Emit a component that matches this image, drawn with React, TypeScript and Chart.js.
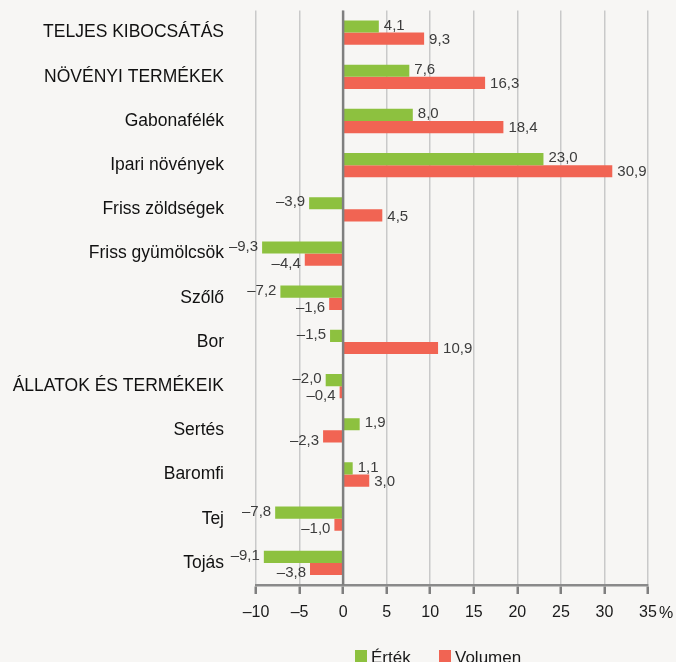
import React, { useEffect, useRef } from "react";
import { Chart, registerables } from "chart.js";

Chart.register(...registerables);

const categories = [
  "TELJES KIBOCSÁTÁS",
  "NÖVÉNYI TERMÉKEK",
  "Gabonafélék",
  "Ipari növények",
  "Friss zöldségek",
  "Friss gyümölcsök",
  "Szőlő",
  "Bor",
  "ÁLLATOK ÉS TERMÉKEIK",
  "Sertés",
  "Baromfi",
  "Tej",
  "Tojás",
];
const ertek = [4.1, 7.6, 8.0, 23.0, -3.9, -9.3, -7.2, -1.5, -2.0, 1.9, 1.1, -7.8, -9.1];
const volumen = [9.3, 16.3, 18.4, 30.9, 4.5, -4.4, -1.6, 10.9, -0.4, -2.3, 3.0, -1.0, -3.8];
const seriesNames = ["Érték", "Volumen"];
const xMin = -10;
const xMax = 35;
const xStep = 5;
const unitLabel = "%";

const GREEN = "#8dc13f";
const RED = "#f16453";
const BG = "#f7f6f4";
const FONT = "'Liberation Sans', Arial, sans-serif";

const fmt = (v: number, digits: number) =>
  v.toFixed(digits).replace(".", ",").replace("-", "\u2013");

const overlayPlugin = {
  id: "overlay",
  afterDatasetsDraw(chart: any) {
    const { ctx, chartArea } = chart;
    const xs = chart.scales.x;
    const x0 = xs.getPixelForValue(0);
    ctx.save();
    ctx.strokeStyle = "#7f7f7f";
    ctx.lineWidth = 2.5;
    ctx.beginPath();
    ctx.moveTo(x0, chartArea.top);
    ctx.lineTo(x0, chartArea.bottom);
    ctx.stroke();

    ctx.font = `15px ${FONT}`;
    ctx.fillStyle = "#3c3c3c";
    ctx.textBaseline = "middle";
    chart.data.datasets.forEach((ds: any, di: number) => {
      const meta = chart.getDatasetMeta(di);
      meta.data.forEach((bar: any, i: number) => {
        const v = ds.data[i];
        const txt = fmt(v, 1);
        const dy = di === 0 ? -1 : v < 0 ? 4 : 1;
        if (v >= 0) {
          ctx.textAlign = "left";
          ctx.fillText(txt, bar.x + 5, bar.y + dy);
        } else {
          ctx.textAlign = "right";
          ctx.fillText(txt, bar.x - 4, bar.y + dy);
        }
      });
    });
    ctx.restore();
  },
  afterDraw(chart: any) {
    const { ctx } = chart;
    const xs = chart.scales.x;
    ctx.save();
    ctx.font = `16px ${FONT}`;
    const lastW = ctx.measureText(String(xMax)).width;
    ctx.fillStyle = "#1a1a1a";
    ctx.textAlign = "left";
    ctx.textBaseline = "middle";
    ctx.fillText(unitLabel, xs.getPixelForValue(xMax) + lastW / 2 + 2, 614);

    ctx.font = `17px ${FONT}`;
    const colors = [GREEN, RED];
    const starts = [355, 439];
    seriesNames.forEach((name, i) => {
      ctx.fillStyle = colors[i];
      ctx.fillRect(starts[i], 650, 12, 12);
      ctx.fillStyle = "#1a1a1a";
      ctx.textBaseline = "alphabetic";
      ctx.fillText(name, starts[i] + 16, 663);
    });
    ctx.restore();
  },
};

export default function App() {
  const ref = useRef<HTMLCanvasElement>(null);

  useEffect(() => {
    document.body.style.margin = "0";
    const canvas = ref.current;
    if (!canvas) return;
    const chart = new Chart(canvas, {
      type: "bar",
      data: {
        labels: categories,
        datasets: [
          { label: seriesNames[0], data: ertek, backgroundColor: GREEN, borderWidth: 0 },
          { label: seriesNames[1], data: volumen, backgroundColor: RED, borderWidth: 0 },
        ],
      },
      plugins: [overlayPlugin],
      options: {
        indexAxis: "y",
        responsive: false,
        animation: false,
        devicePixelRatio: 1,
        categoryPercentage: 0.55,
        barPercentage: 1,
        layout: { padding: { top: 10, right: 28, bottom: 37, left: 0 } },
        plugins: {
          legend: { display: false },
          tooltip: { enabled: false },
        },
        scales: {
          x: {
            type: "linear",
            position: "bottom",
            min: xMin,
            max: xMax,
            afterFit: (s: any) => {
              s.height = 40;
            },
            ticks: {
              stepSize: xStep,
              padding: 9,
              color: "#1a1a1a",
              font: { size: 16, family: FONT },
              callback: (v: any) => fmt(Number(v), 0),
            },
            grid: {
              color: "#c9c9c9",
              lineWidth: 1.5,
              tickLength: 9,
              tickColor: "#7f7f7f",
              tickWidth: 2.5,
            },
            border: { display: true, color: "#8a8a8a", width: 2.5 },
          },
          y: {
            type: "category",
            position: "left",
            afterFit: (s: any) => {
              s.width = 256;
            },
            ticks: {
              padding: 0,
              color: "#111111",
              font: { size: 17.5, family: FONT },
            },
            grid: {
              display: true,
              drawOnChartArea: false,
              drawTicks: true,
              tickLength: 32,
              tickColor: "rgba(0,0,0,0)",
              color: "rgba(0,0,0,0)",
            },
            border: { display: false },
          },
        },
      },
    } as any);
    return () => chart.destroy();
  }, []);

  return (
    <div style={{ width: 676, height: 662, background: BG, overflow: "hidden" }}>
      <canvas ref={ref} width={676} height={662} style={{ display: "block" }} />
    </div>
  );
}
